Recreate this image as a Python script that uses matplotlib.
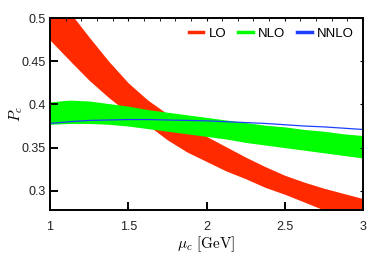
import numpy as np
from matplotlib import pyplot as plt
from matplotlib.lines import Line2D

plt.rcParams['mathtext.fontset'] = 'cm'
plt.rcParams['font.family'] = ['Liberation Sans', 'DejaVu Sans']

mu = [1.0, 1.125, 1.25, 1.375, 1.5, 1.625, 1.75, 1.875, 2.0,
      2.125, 2.25, 2.375, 2.5, 2.625, 2.75, 2.875, 3.0]

# LO band
lo_up = [0.535, 0.507, 0.478, 0.450, 0.425, 0.405, 0.389, 0.375, 0.363,
         0.351, 0.339, 0.328, 0.318, 0.310, 0.303, 0.297, 0.291]
lo_dn = [0.4745, 0.451, 0.428, 0.408, 0.390, 0.376, 0.359, 0.345, 0.334,
         0.323, 0.314, 0.304, 0.296, 0.287, 0.2778, 0.270, 0.262]

# NLO band
nlo_up = [0.403, 0.405, 0.404, 0.401, 0.398, 0.394, 0.391, 0.388, 0.385,
          0.382, 0.379, 0.376, 0.374, 0.371, 0.369, 0.366, 0.364]
nlo_dn = [0.377, 0.378, 0.378, 0.377, 0.375, 0.372, 0.369, 0.366, 0.363,
          0.360, 0.356, 0.353, 0.350, 0.347, 0.344, 0.341, 0.338]

# NNLO central line
nnlo = [0.378, 0.380, 0.3815, 0.382, 0.3825, 0.3825, 0.382, 0.3815, 0.381,
        0.380, 0.379, 0.378, 0.3765, 0.375, 0.374, 0.3725, 0.371]

red = '#ff2a00'
green = '#00ff00'
blue = '#1f3fff'

fig = plt.figure(figsize=(3.81, 2.54), dpi=100)
ax = fig.add_axes([0.1312, 0.1732, 0.8216, 0.7558])

ax.fill_between(mu, lo_dn, lo_up, color=red, lw=0)
ax.fill_between(mu, nlo_dn, nlo_up, color=green, lw=0)
ax.plot(mu, nnlo, color=blue, lw=0.9)

ax.set_xlim(1, 3)
ax.set_ylim(0.2778, 0.5)
ax.set_xticks([1, 1.5, 2, 2.5, 3])
ax.set_xticklabels(['1', '1.5', '2', '2.5', '3'])
ax.set_yticks([0.3, 0.35, 0.4, 0.45, 0.5])
ax.set_yticklabels(['0.3', '0.35', '0.4', '0.45', '0.5'])

for s in ax.spines.values():
    s.set_linewidth(1.4)
ax.tick_params(axis='both', direction='in', length=6, width=1.4,
               labelsize=9, labelcolor='#222222')
ax.tick_params(axis='x', top=True, pad=8)
ax.tick_params(axis='y', right=True, pad=3)
# short ticks on the right and top
for t in ax.yaxis.get_major_ticks():
    t.tick2line.set_markersize(2.5)
    t.tick2line.set_markeredgewidth(0.8)
for t in ax.xaxis.get_major_ticks():
    t.tick2line.set_markersize(2.5)
    t.tick2line.set_markeredgewidth(0.8)
ax.set_xticks(np.arange(1, 3.01, 0.1), minor=True)
ax.tick_params(axis='x', which='minor', direction='in', bottom=False, top=True,
               length=1.8, width=0.6)

ax.set_xlabel(r'$\mu_c\ [\mathrm{GeV}]$', fontsize=11)
ax.set_ylabel(r'$P_c$', fontsize=11)
ax.xaxis.set_label_coords(0.5, -0.125)
ax.yaxis.set_label_coords(-0.08, 0.5)

handles = [Line2D([], [], color=red, lw=2.5),
           Line2D([], [], color=green, lw=2.5),
           Line2D([], [], color=blue, lw=2.5)]
ax.legend(handles, ['LO', 'NLO', 'NNLO'], ncol=3, loc='upper right',
          frameon=False, fontsize=9.5, handlelength=1.1, handletextpad=0.4,
          columnspacing=0.9, borderaxespad=0.3)

fig.savefig('out.png', dpi=100)
